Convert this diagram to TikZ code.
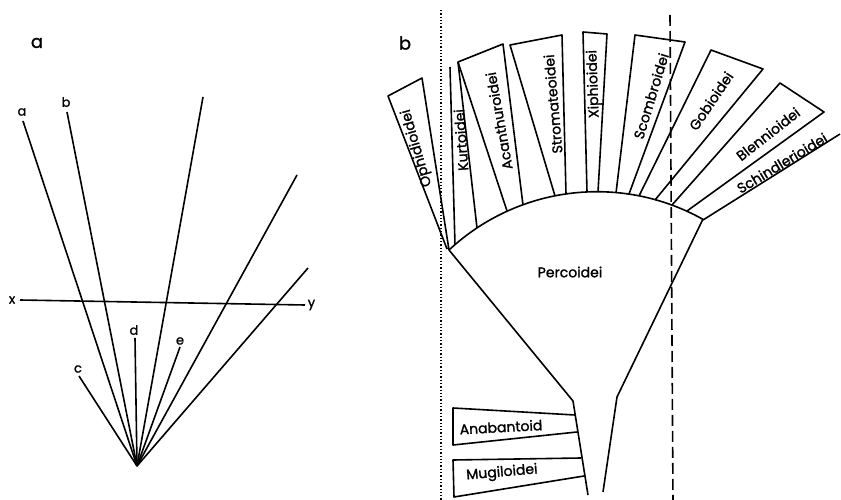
\documentclass[tikz,border=0pt]{standalone}
\usepackage{fontspec}
\setmainfont{Poppins}[FakeBold=1.4]
\begin{document}
\begin{tikzpicture}[x=1pt,y=-1pt,line width=1.6pt,line join=round,
  sub/.style={font=\fontsize{14}{16}\selectfont,inner sep=0pt},
  lbl/.style={font=\fontsize{13}{15}\selectfont,inner sep=0pt},
  panel/.style={font=\fontsize{18}{20}\selectfont,inner sep=0pt}]
\useasboundingbox(0,0)rectangle(841,500);
\node[panel](pa)at(37,43){a};\node[panel](pb)at(405,43){b};
\coordinate(o)at(137,466);
\foreach\n/\x/\y in{la/23/121,lb/67/112,lf/203/97,lg/297/175,lh/308/268,lc/79/376,ld/135/338,le/180/347}{\coordinate(\n)at(\x,\y);\draw(o)--(\n);}
\node[lbl](ta)at(22,112){a};\node[lbl](tb)at(66,102){b};\node[lbl](tc)at(78,369){c};\node[lbl](td)at(134,330){d};\node[lbl](te)at(180,341){e};
\coordinate(xl)at(20,300);\coordinate(yr)at(305,305);\draw(xl)--(yr);
\node[lbl,left=4pt](tx)at(xl){x};\node[lbl,right=2pt](ty)at(yr){y};
\draw[line width=1.6pt,dash pattern=on 1.3pt off 2pt](441,10)--(441,500);
\draw[dash pattern=on 11pt off 5pt](670,15)--(673,500);
\draw[domain=-133:-60.8,samples=60]plot({597+217*cos(\x)},{408.7+217*sin(\x)})--(617,397)--(603,492);
\draw(449,250)--(573,401)--(588,495);
\draw(447,249)--(388,96)--(422,78)--(449,250);
\draw(455,245)--(450,67);\draw(477,228)--(458,62);
\draw(507,211)--(458,62)--(503,44)--(523,205);
\draw(555,196)--(510,45)--(562,35)--(566,194);
\draw(587,192)--(583,32)--(607,34)--(598,192);
\draw(616,193)--(635,35)--(685,42)--(629,194);
\draw(639,196)--(711,50)--(763,69)--(655,200);
\draw(672,205)--(780,83)--(824,112)--(687,211);
\draw(703,220)--(840,134);
\draw(575,415)--(453,408)--(453,445)--(577,432);
\draw(581,458)--(453,460)--(454,497)--(584,476);
\foreach\t/\x/\y/\r in{Ophidioidei/417/148/106,Kurtoidei/461/140/94,Acanthuroidei/499/121/100,Stromateoidei/553/104/95,Xiphioidei/594/84/92,Scombroidei/651/96/73,Gobioidei/711/101/56,Blennioidei/768/134/38,Schindlerioidei/782/163/31}
  \node[sub,rotate=\r](\t)at(\x,\y){\t};
\node[sub](percoidei)at(570,272){Percoidei};
\node[sub,rotate=3](anabantoid)at(501,427){Anabantoid};
\node[sub,rotate=5](mugiloidei)at(502,473){Mugiloidei};
\end{tikzpicture}
\end{document}
